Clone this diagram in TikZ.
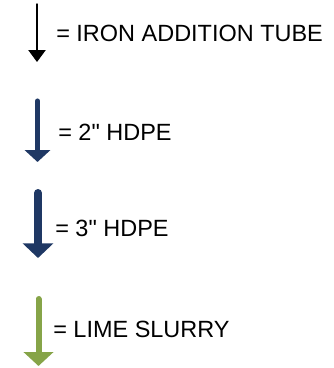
\documentclass[tikz,border=0pt]{standalone}
\definecolor{pipeblue}{RGB}{31, 56, 100}
\definecolor{limegreen}{RGB}{134, 164, 72}
\usepackage{fontspec}
\setmainfont{Liberation Sans}
\usepackage{tikz}
\usetikzlibrary{arrows.meta, positioning}

\begin{document}
\begin{tikzpicture}[x=0.75pt, y=-0.75pt,
  legarrow/.style={line cap=round},
  leglabel/.style={anchor=base west, inner sep=0pt, font=\fontsize{17.6}{20}\selectfont}]
  \useasboundingbox (0,0) rectangle (334,368);
  % iron addition tube
  \coordinate (ironA) at (37,4);
  \coordinate (ironB) at (37,62);
  \draw[legarrow, line width=1.1pt, -{Triangle[length=9pt, width=13pt]}] (ironA) -- (ironB);
  \node[leglabel] (iron) at (56,41) {= IRON ADDITION TUBE};
  % 2" HDPE
  \coordinate (twoA) at (37.5,101);
  \coordinate (twoB) at (37.5,162);
  \draw[legarrow, pipeblue, line width=3.8pt, -{Triangle[length=9pt, width=19pt]}] (twoA) -- (twoB);
  \node[leglabel] (two) at (58,140) {= 2\textquotedbl{} HDPE};
  % 3" HDPE
  \coordinate (threeA) at (38,193);
  \coordinate (threeB) at (38,258);
  \draw[legarrow, pipeblue, line width=6pt, -{Triangle[length=11pt, width=22.5pt]}] (threeA) -- (threeB);
  \node[leglabel] (three) at (55,236) {= 3\textquotedbl{} HDPE};
  % lime slurry
  \coordinate (limeA) at (38.5,299);
  \coordinate (limeB) at (38.5,366);
  \draw[legarrow, limegreen, line width=4.5pt, -{Triangle[length=10.5pt, width=22pt]}] (limeA) -- (limeB);
  \node[leglabel] (lime) at (53,337) {= LIME SLURRY};
\end{tikzpicture}
\end{document}
